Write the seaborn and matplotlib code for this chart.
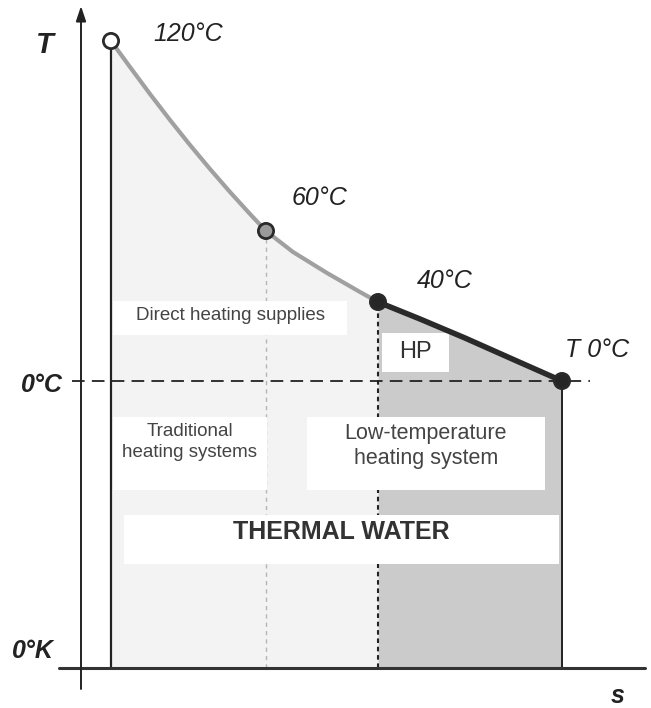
import matplotlib
matplotlib.use("Agg")
import matplotlib.pyplot as plt
from matplotlib.patches import Rectangle
import seaborn as sns
import pandas as pd

sns.set_style("white")
plt.rcParams["font.family"] = ["Liberation Sans", "DejaVu Sans"]

# state points of the T-s diagram (schematic units: s to the right, T up)
state_labels = ["120°C", "60°C", "40°C", "T 0°C"]
state_s = [111, 266, 378, 562]
state_T = [667, 477, 406, 327]
state_face = ["white", "#9a9a9a", "#262626", "#262626"]

# curve
hot_s = [111, 130, 150, 170, 190, 210, 230, 250, 266, 293, 327, 360, 378]
hot_T = [667, 641, 614, 588, 563, 539, 516, 494, 477, 456, 435, 416, 406]
cold_s = [378, 420, 465, 510, 562]
cold_T = [406, 389, 370, 350, 327]

T_zero_K = 40      # 0°K line
T_zero_C = 327     # 0°C line

hot = pd.DataFrame({"s": hot_s, "T": hot_T})
cold = pd.DataFrame({"s": cold_s, "T": cold_T})
states = pd.DataFrame({"s": state_s, "T": state_T, "label": state_labels})

fig = plt.figure(figsize=(6.51, 7.08), dpi=100)
ax = fig.add_axes([0, 0, 1, 1])
ax.set_xlim(0, 651)
ax.set_ylim(0, 708)
ax.axis("off")

# areas under the curve
ax.fill_between(hot["s"], hot["T"], T_zero_K, color="#f3f3f3", lw=0, zorder=1)
ax.fill_between(cold["s"], cold["T"], T_zero_K, color="#cbcbcb", lw=0, zorder=1)

# vertical lines
ax.plot([state_s[0]] * 2, [T_zero_K, state_T[0]], color="#222222", lw=1.6, zorder=2)
ax.plot([state_s[3]] * 2, [T_zero_K, state_T[3]], color="#222222", lw=1.4, zorder=2)
ax.plot([state_s[1]] * 2, [T_zero_K, state_T[1]], color="#b5b5b5", lw=1.0,
        ls=(0, (3, 3)), zorder=2)
ax.plot([state_s[2]] * 2, [T_zero_K, state_T[2]], color="#222222", lw=1.5,
        ls=(0, (2.2, 1.8)), zorder=2)

# 0°C dashed line
ax.plot([72, 590], [T_zero_C, T_zero_C], color="#222222", lw=1.3,
        ls=(0, (7, 4)), zorder=2)

# axes
ax.plot([59, 645], [T_zero_K, T_zero_K], color="#333333", lw=2.2, zorder=5)
ax.annotate("", xy=(81, 702), xytext=(81, 19),
            arrowprops=dict(arrowstyle="-|>,head_length=0.9,head_width=0.3",
                            color="#222222", lw=1.4, shrinkA=0, shrinkB=0), zorder=5)

# white label boxes
boxes = [(113, 373, 234, 34), (382, 336, 67, 39), (113, 218, 154, 73),
         (307, 218, 238, 73), (124, 144, 435, 49)]
for x0, y0, w, h in boxes:
    ax.add_patch(Rectangle((x0, y0), w, h, facecolor="white", edgecolor="none", zorder=3))

# curve
sns.lineplot(data=hot, x="s", y="T", sort=False, color="#a0a0a0", lw=3.0, ax=ax, zorder=6)
sns.lineplot(data=cold, x="s", y="T", sort=False, color="#2a2a2a", lw=4.0, ax=ax, zorder=6)

# state points
sns.scatterplot(data=states, x="s", y="T", hue="label",
                palette=dict(zip(state_labels, state_face)), s=120,
                edgecolor="#2a2a2a", linewidth=2.0, legend=False, ax=ax, zorder=7)

# state labels
label_pos = [(153, 667), (292, 503), (417, 420), (565, 351)]
for lab, (x, y) in zip(state_labels, label_pos):
    ax.text(x, y, lab, style="italic", fontsize=18,
            color="#222222", ha="left", va="baseline", zorder=8)

# axis labels
ax.text(45, 655, "T", fontsize=21, style="italic", weight="bold",
        color="#222222", ha="center", va="baseline")
ax.text(42, 316, "0°C", fontsize=18, style="italic", weight="bold",
        color="#222222", ha="center", va="baseline")
ax.text(33, 50, "0°K", fontsize=18, style="italic", weight="bold",
        color="#222222", ha="center", va="baseline")
ax.text(618, 5, "s", fontsize=18, style="italic", weight="bold",
        color="#222222", ha="center", va="baseline")

# region texts
ax.text(230, 392, "Direct heating supplies", fontsize=13.5, color="#444444",
        ha="center", va="center", zorder=4)
ax.text(415, 356, "HP", fontsize=17, color="#333333", ha="center", va="center", zorder=4)
ax.text(190, 266, "Traditional\nheating systems", fontsize=13.5, color="#444444",
        ha="center", va="center", linespacing=1.35, zorder=4)
ax.text(426, 262, "Low-temperature\nheating system", fontsize=15.5, color="#444444",
        ha="center", va="center", linespacing=1.25, zorder=4)
ax.text(341, 176, "THERMAL WATER", fontsize=18, weight="bold", color="#333333",
        ha="center", va="center", zorder=4)

fig.savefig("out.png", dpi=100)
